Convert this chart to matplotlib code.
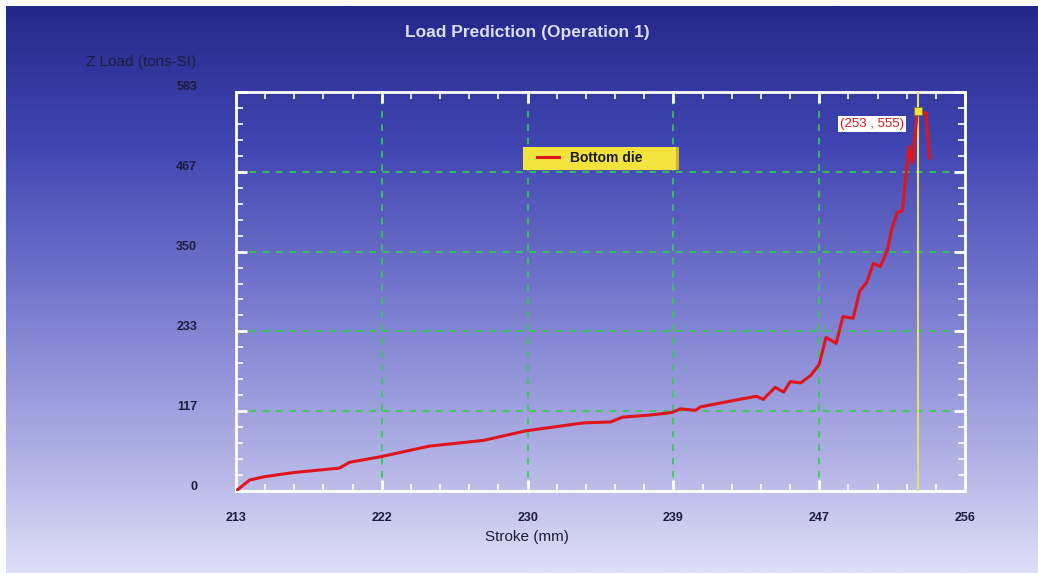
import numpy as np
import matplotlib
matplotlib.use('Agg')
import matplotlib.pyplot as plt
from matplotlib.colors import LinearSegmentedColormap
from matplotlib.patches import Rectangle
from matplotlib.ticker import AutoMinorLocator, FixedLocator, FixedFormatter
from matplotlib.transforms import ScaledTranslation

# stroke (mm) vs Z load (tons-SI), bottom die
stroke = [213.0, 213.8, 214.7, 216.4, 219.1, 219.7, 221.5, 224.4, 227.6, 230.1,
          233.5, 235.1, 235.8, 237.4, 238.7, 239.2, 240.1, 240.4, 242.7, 243.7,
          244.1, 244.8, 245.3, 245.7, 246.3, 246.9, 247.4, 247.8, 248.4, 248.8,
          249.4, 249.8, 250.2, 250.6, 251.0, 251.4, 251.7, 252.0, 252.3, 252.7,
          252.9, 253.2, 253.4, 253.7, 253.9]
load = [0, 16, 21, 27, 33.5, 42, 50, 65.6, 74, 88,
        99.6, 101, 108, 111, 114.7, 120, 118, 123, 134, 138.5,
        134, 151.6, 144.7, 160, 158, 169, 185, 224.5, 216, 255,
        252.6, 293, 305, 333, 328, 351, 385, 407, 410, 504,
        480, 558, 553, 553, 487]

x_range = [213, 256]
y_range = [0, 583.4]
x_tick_labels = ['213', '222', '230', '239', '247', '256']
y_tick_labels = ['0', '117', '233', '350', '467', '583']
cursor_x = 253.2
cursor_y = 555
series_name = 'Bottom die'

W, H = 1038, 573
fig = plt.figure(figsize=(W / 100, H / 100), dpi=100)
fig.patch.set_facecolor('white')

# gradient background
bg = fig.add_axes([6 / W, 0, 1 - 6 / W, 1 - 6 / H])
cmap = LinearSegmentedColormap.from_list('bg', [
    (0.0, '#dfdff7'), (0.2, '#b2b2e6'), (0.5, '#7376cc'),
    (0.75, '#4246b2'), (1.0, '#24288a')])
grad = np.linspace(0, 1, 256).reshape(-1, 1)
bg.imshow(grad, aspect='auto', cmap=cmap, origin='lower', extent=[0, 1, 0, 1])
bg.set_axis_off()

ax = fig.add_axes([236 / W, 1 - 491 / H, 729 / W, 399 / H])
ax.set_facecolor('none')
ax.plot(stroke, load, color='#e0141c', lw=2.2, label=series_name, zorder=4)
ax.axvline(cursor_x, color='#e6df6e', lw=1.5, zorder=3)
ax.plot([cursor_x], [cursor_y], marker='s', ms=6, mfc='#f2e440',
        mec='#8a7a20', mew=0.6, zorder=5, clip_on=False)

ax.set_xlim(x_range)
ax.set_ylim(y_range)
xt = np.linspace(x_range[0], x_range[1], len(x_tick_labels))
yt = np.linspace(y_range[0], y_range[1], len(y_tick_labels))
ax.xaxis.set_major_locator(FixedLocator(xt))
ax.xaxis.set_major_formatter(FixedFormatter(x_tick_labels))
ax.yaxis.set_major_locator(FixedLocator(yt))
ax.yaxis.set_major_formatter(FixedFormatter(y_tick_labels))
ax.xaxis.set_minor_locator(AutoMinorLocator(5))
ax.yaxis.set_minor_locator(AutoMinorLocator(5))

ax.grid(True, which='major', color='#2ed04a', ls=(0, (4, 4)), lw=1.2, zorder=1)
for s in ax.spines.values():
    s.set_color('white')
    s.set_linewidth(2)

ax.tick_params(which='both', direction='in', colors='white', top=True, right=True)
ax.tick_params(which='major', length=8, width=2)
ax.tick_params(which='minor', length=5, width=1.2)
ax.tick_params(axis='x', labelcolor='#1c1c3c', labelsize=9, pad=15)
ax.tick_params(axis='y', labelcolor='#1c1c3c', labelsize=9, pad=28)
for lbl in ax.get_xticklabels() + ax.get_yticklabels():
    lbl.set_fontfamily('Liberation Sans')
    lbl.set_fontweight('bold')
for lbl in ax.get_yticklabels():
    lbl.set_transform(lbl.get_transform() + ScaledTranslation(0, 6 / 100, fig.dpi_scale_trans))

fig.text(527 / W, 1 - 32 / H, 'Load Prediction (Operation 1)', ha='center', va='center',
         fontsize=12.5, fontweight='bold', color='#dcdcf2', family='Liberation Sans')
fig.text(141 / W, 1 - 62 / H, 'Z Load (tons-SI)', ha='center', va='center',
         fontsize=11, color='#1e1e3a', family='Liberation Sans')
fig.text(527 / W, 1 - 537 / H, 'Stroke (mm)', ha='center', va='center',
         fontsize=11, color='#1e1e3a', family='Liberation Sans')

ax.text((872 - 236) / 729, (491 - 124) / 399, '(%d , %d)' % (round(cursor_x), cursor_y),
        transform=ax.transAxes, ha='center', va='center', fontsize=9.5,
        color='#e0141c', family='Liberation Sans',
        bbox=dict(facecolor='white', edgecolor='none', pad=1.2), zorder=6)

# legend box (wider than its contents, as in the source chart)
ax.add_patch(Rectangle((523 / W, 1 - 170 / H), 155 / W, 23 / H,
                       transform=fig.transFigure, facecolor='#f2e43c',
                       edgecolor='none', zorder=5, clip_on=False))
ax.add_patch(Rectangle((676 / W, 1 - 170 / H), 3 / W, 23 / H,
                       transform=fig.transFigure, facecolor='#c8b830',
                       edgecolor='none', zorder=5, clip_on=False))
leg = ax.legend(loc='center left', bbox_to_anchor=(530 / W, 1 - 158 / H),
                bbox_transform=fig.transFigure, frameon=False,
                handlelength=1.6, handletextpad=0.8, borderpad=0.0,
                prop={'family': 'Liberation Sans', 'weight': 'bold', 'size': 10})
leg.set_zorder(6)
for t in leg.get_texts():
    t.set_color('#1a1a1a')

fig.savefig('out.png', dpi=100)
